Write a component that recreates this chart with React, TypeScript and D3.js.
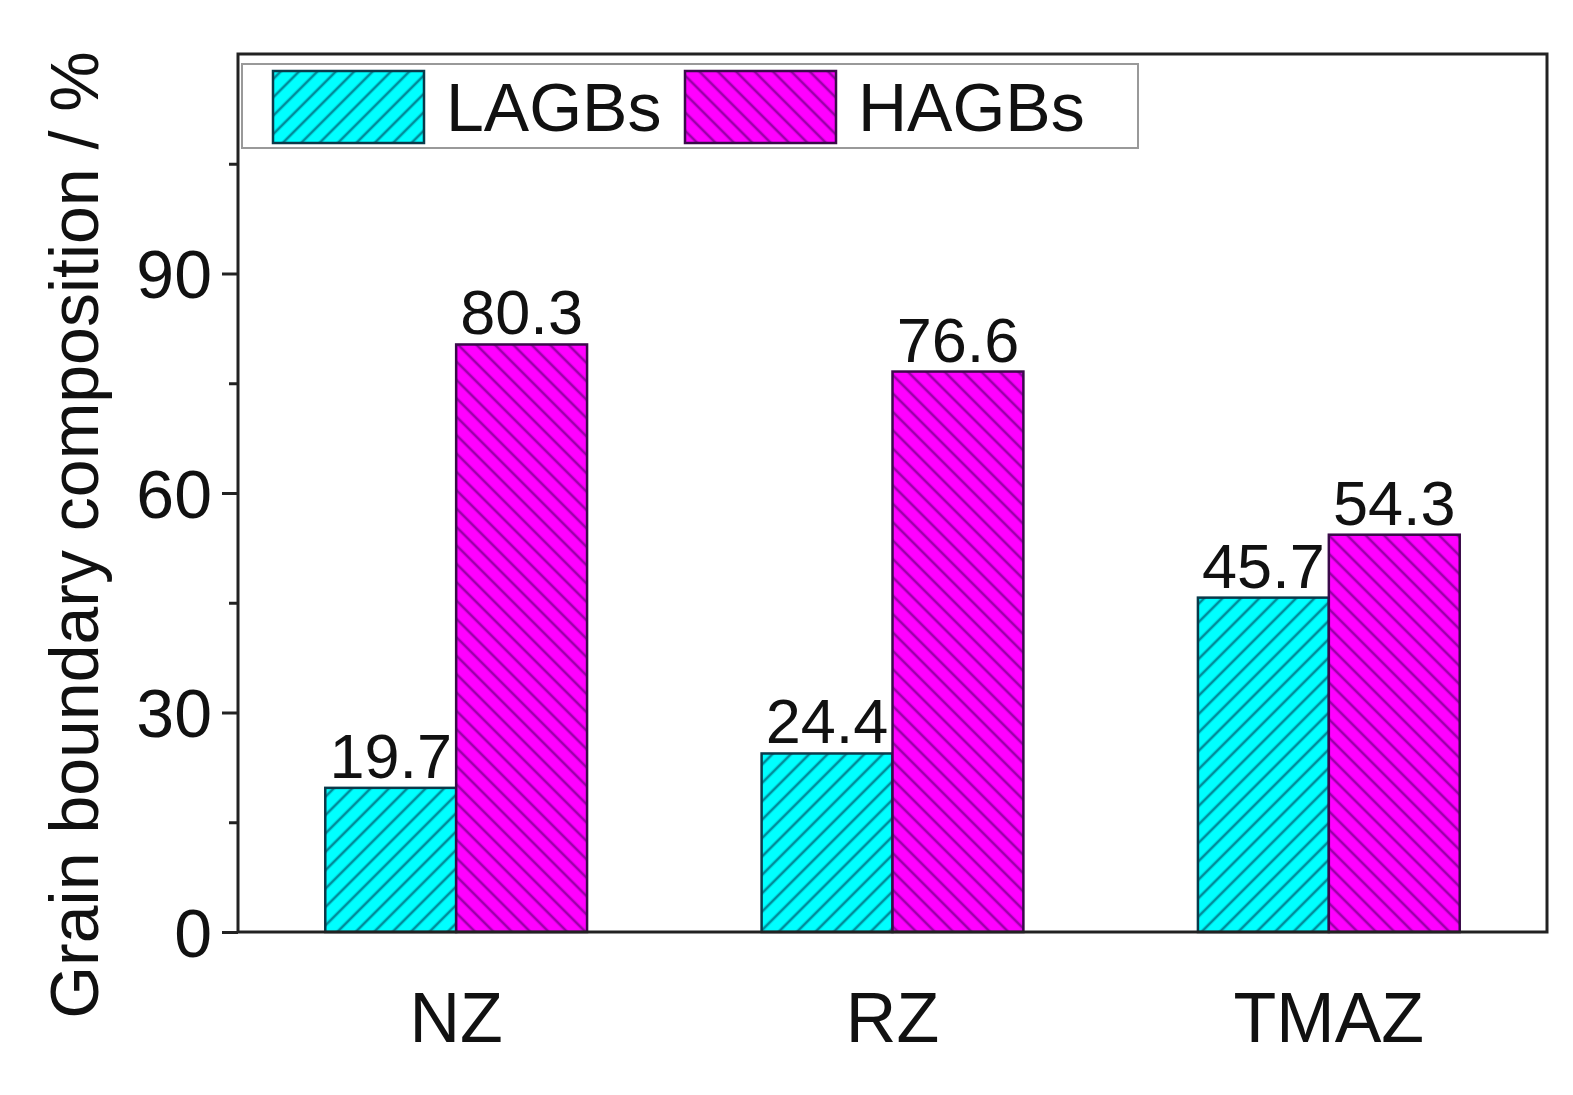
import { useEffect, useRef } from "react";
import * as d3 from "d3";

const categories = ["NZ", "RZ", "TMAZ"];
const seriesNames = ["LAGBs", "HAGBs"];
const lagbs = [19.7, 24.4, 45.7];
const hagbs = [80.3, 76.6, 54.3];
const yMajorTicks = [0, 30, 60, 90];
const yMinorTicks = [15, 45, 75, 105];

const FILLS = ["#00ffff", "#ff00ff"];
const HATCH = ["#008c9a", "#9a00a8"];
const EDGES = ["#0a3a4a", "#3a0a4a"];
const FONT = "'Liberation Sans', Arial, sans-serif";

export default function App() {
  const ref = useRef<SVGSVGElement>(null);

  useEffect(() => {
    if (!ref.current) return;
    document.body.style.margin = "0";
    const svg = d3.select(ref.current);
    svg.selectAll("*").remove();

    const margin = { top: 54, right: 26, bottom: 163, left: 238 };
    const W = 1573;
    const H = 1095;
    const width = W - margin.left - margin.right;
    const height = H - margin.top - margin.bottom;

    // hatch patterns
    const defs = svg.append("defs");
    [45, -45].forEach((angle, i) => {
      const p = defs
        .append("pattern")
        .attr("id", `hatch${i}`)
        .attr("patternUnits", "userSpaceOnUse")
        .attr("width", 13)
        .attr("height", 13)
        .attr("patternTransform", `rotate(${angle})`);
      p.append("rect").attr("width", 13).attr("height", 13).attr("fill", FILLS[i]);
      p.append("line")
        .attr("x1", 2)
        .attr("y1", 0)
        .attr("x2", 2)
        .attr("y2", 13)
        .attr("stroke", HATCH[i])
        .attr("stroke-width", 2.6);
    });

    const g = svg
      .append("g")
      .attr("transform", `translate(${margin.left},${margin.top})`);

    const x = d3.scaleBand().domain(categories).range([0, width]).padding(0);
    const inner = d3
      .scaleBand()
      .domain(seriesNames)
      .range([x.bandwidth() * 0.2, x.bandwidth() * 0.8])
      .padding(0);
    const y = d3.scaleLinear().domain([0, 120]).range([height, 0]);

    const values = [lagbs, hagbs];

    // bars
    seriesNames.forEach((s, si) => {
      categories.forEach((c, ci) => {
        const v = values[si][ci];
        const bx = (x(c) ?? 0) + (inner(s) ?? 0);
        g.append("rect")
          .attr("x", bx)
          .attr("y", y(v))
          .attr("width", inner.bandwidth())
          .attr("height", height - y(v))
          .attr("fill", `url(#hatch${si})`)
          .attr("stroke", EDGES[si])
          .attr("stroke-width", 2.5);
        g.append("text")
          .attr("x", bx + inner.bandwidth() / 2)
          .attr("y", y(v) - 10)
          .attr("text-anchor", "middle")
          .attr("font-family", FONT)
          .attr("font-size", 63)
          .attr("fill", "#111")
          .text(v.toFixed(1));
      });
    });

    // frame
    g.append("rect")
      .attr("width", width)
      .attr("height", height)
      .attr("fill", "none")
      .attr("stroke", "#222")
      .attr("stroke-width", 3);

    // y axis
    const yAxis = g
      .append("g")
      .call(
        d3
          .axisLeft(y)
          .tickValues(yMajorTicks)
          .tickSize(16)
          .tickPadding(10)
          .tickFormat(d3.format("d"))
      );
    yAxis.select(".domain").remove();
    yAxis.selectAll("line").attr("stroke", "#222").attr("stroke-width", 3);
    yAxis
      .selectAll("text")
      .attr("font-family", FONT)
      .attr("font-size", 68)
      .attr("fill", "#111")
      .attr("dy", "0.36em");

    const yMinor = g
      .append("g")
      .call(d3.axisLeft(y).tickValues(yMinorTicks).tickSize(9).tickFormat(() => ""));
    yMinor.select(".domain").remove();
    yMinor.selectAll("line").attr("stroke", "#222").attr("stroke-width", 3);

    // x axis
    const xAxis = g
      .append("g")
      .attr("transform", `translate(0,${height})`)
      .call(d3.axisBottom(x).tickSize(0).tickPadding(60));
    xAxis.select(".domain").remove();
    xAxis
      .selectAll("text")
      .attr("font-family", FONT)
      .attr("font-size", 70)
      .attr("fill", "#111");

    // y title
    svg
      .append("text")
      .attr("transform", `translate(98,535) rotate(-90)`)
      .attr("text-anchor", "middle")
      .attr("font-family", FONT)
      .attr("font-size", 68)
      .attr("fill", "#111")
      .text("Grain boundary composition / %");

    // legend
    const leg = svg.append("g");
    leg
      .append("rect")
      .attr("x", 242)
      .attr("y", 64)
      .attr("width", 896)
      .attr("height", 84)
      .attr("fill", "#fff")
      .attr("stroke", "#999")
      .attr("stroke-width", 2);
    const legX = [273, 685];
    seriesNames.forEach((s, i) => {
      leg
        .append("rect")
        .attr("x", legX[i])
        .attr("y", 71)
        .attr("width", 151)
        .attr("height", 72)
        .attr("fill", `url(#hatch${i})`)
        .attr("stroke", EDGES[i])
        .attr("stroke-width", 2.5);
      leg
        .append("text")
        .attr("x", legX[i] + 173)
        .attr("y", 131)
        .attr("font-family", FONT)
        .attr("font-size", 68)
        .attr("fill", "#111")
        .text(s);
    });
  }, []);

  return <svg ref={ref} width={1573} height={1095} style={{ display: "block", background: "#fff" }} />;
}
